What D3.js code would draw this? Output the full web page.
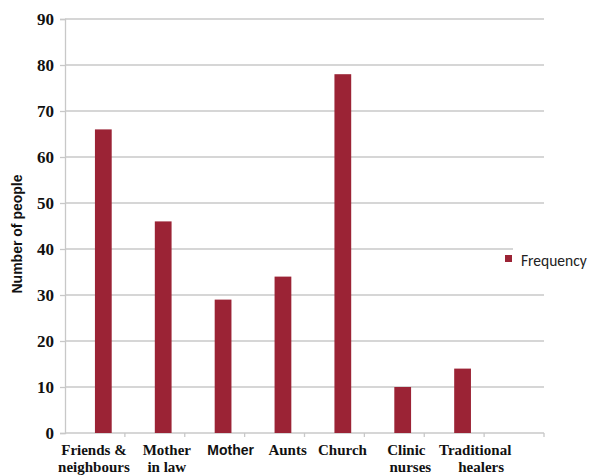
<!DOCTYPE html>
<html>
<head>
<meta charset="utf-8">
<script src="https://cdn.jsdelivr.net/npm/d3@7/dist/d3.min.js"></script>
<style>
  html, body { margin: 0; padding: 0; background: #fff; }
  svg { display: block; }
</style>
</head>
<body>
<svg id="chart" width="593" height="476"></svg>
<script>
// Sources of advice, by number of people
const categories = ["Friends & neighbours", "Mother in law", "Mother", "Aunts", "Church", "Clinic nurses", "Traditional healers"];
const labelLines = [["Friends &", "neighbours"], ["Mother", "in law"], ["Mother"], ["Aunts"], ["Church"], ["Clinic", "nurses"], ["Traditional", "healers"]];
const frequency = [66, 46, 29, 34, 78, 10, 14];
const yTicks = [0, 10, 20, 30, 40, 50, 60, 70, 80, 90];
const seriesName = "Frequency";

// Layout
const plot = { left: 65, right: 544, top: 19, bottom: 433 };
const slots = 8; // one empty slot after the last category
const barColor = "#9b2335";
const gridColor = "#c8c8c8";
// horizontal nudge of each category label from its slot centre
const labelShift = [[-1, -1], [12, 12], [16], [13], [8], [12, 16], [21, 27]];
const labelFont = ["serif", "serif", "sans", "serif", "serif", "serif", "serif"];

const svg = d3.select("#chart");

const x = d3.scaleBand().domain(d3.range(slots)).range([plot.left, plot.right]).padding(0);
const y = d3.scaleLinear().domain([0, 90]).range([plot.bottom, plot.top]);

// horizontal gridlines
svg.append("g")
  .selectAll("line")
  .data(yTicks.filter(d => d > 0))
  .join("line")
  .attr("x1", plot.left).attr("x2", plot.right)
  .attr("y1", d => y(d)).attr("y2", d => y(d))
  .attr("stroke", gridColor).attr("stroke-width", 1.3);

// y axis
const yAxis = svg.append("g")
  .attr("transform", `translate(${plot.left},0)`)
  .call(d3.axisLeft(y).tickValues(yTicks).tickSize(5).tickPadding(6).tickFormat(d3.format("d")));
yAxis.select(".domain").attr("stroke", gridColor).attr("stroke-width", 1.3);
yAxis.selectAll(".tick line").attr("stroke", gridColor).attr("stroke-width", 1.3);
yAxis.selectAll(".tick text")
  .attr("font-family", "'Liberation Serif', 'Times New Roman', serif")
  .attr("font-weight", "bold")
  .attr("font-size", 17)
  .attr("fill", "#111")
  .attr("dy", "0.34em");

// x axis line with slot boundary ticks
const xAxisG = svg.append("g");
xAxisG.append("line")
  .attr("x1", plot.left).attr("x2", plot.right)
  .attr("y1", y(0)).attr("y2", y(0))
  .attr("stroke", gridColor).attr("stroke-width", 1.3);
xAxisG.selectAll("line.tk")
  .data(d3.range(1, slots + 1))
  .join("line")
  .attr("class", "tk")
  .attr("x1", d => plot.left + d * x.bandwidth())
  .attr("x2", d => plot.left + d * x.bandwidth())
  .attr("y1", y(0)).attr("y2", y(0) + 4)
  .attr("stroke", gridColor).attr("stroke-width", 1.3);

// bars sit in the right half of each slot
svg.append("g")
  .selectAll("rect")
  .data(frequency)
  .join("rect")
  .attr("x", (d, i) => x(i) + x.bandwidth() * 0.5)
  .attr("width", x.bandwidth() * 0.28)
  .attr("y", d => y(d))
  .attr("height", d => y(0) - y(d))
  .attr("fill", barColor);

// category labels
const labels = svg.append("g");
labelLines.forEach((lines, i) => {
  const cx = x(i) + x.bandwidth() / 2;
  lines.forEach((line, j) => {
    const sans = labelFont[i] === "sans";
    labels.append("text")
      .attr("x", cx + labelShift[i][j])
      .attr("y", plot.bottom + 22 + j * 17)
      .attr("text-anchor", "middle")
      .attr("font-family", sans ? "'Liberation Sans Narrow', 'Liberation Sans', Arial, sans-serif" : "'Liberation Serif', 'Times New Roman', serif")
      .attr("font-weight", "bold")
      .attr("font-size", sans ? 14 : 15)
      .attr("fill", "#111")
      .text(line);
  });
});

// y axis title
svg.append("text")
  .attr("transform", `translate(22, ${(plot.top + plot.bottom) / 2 + 8}) rotate(-90)`)
  .attr("text-anchor", "middle")
  .attr("font-family", "'Liberation Sans', Arial, sans-serif")
  .attr("font-weight", "bold")
  .attr("font-size", 14)
  .attr("fill", "#111")
  .text("Number of people");

// legend
const legend = svg.append("g");
legend.append("rect")
  .attr("x", 513).attr("y", y(40) - 6)
  .attr("width", 80).attr("height", 30)
  .attr("fill", "#fff");
legend.append("rect")
  .attr("x", 505).attr("y", 255)
  .attr("width", 7).attr("height", 7)
  .attr("fill", barColor);
legend.append("text")
  .attr("x", 521).attr("y", 266)
  .attr("font-family", "Carlito, 'Open Sans', 'Liberation Sans', sans-serif")
  .attr("font-size", 15.5)
  .attr("fill", "#222")
  .text(seriesName);
</script>
</body>
</html>
